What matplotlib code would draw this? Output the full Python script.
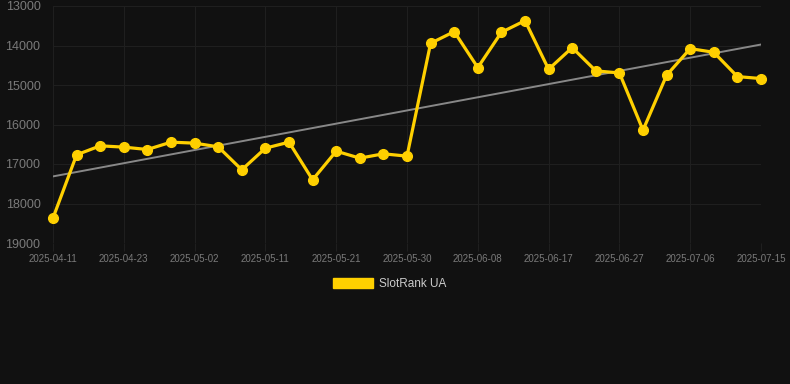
#! /usr/bin/env python
import numpy as np
import matplotlib as mpl
import matplotlib.pyplot as plt
import matplotlib.patches as mpatches
mpl.rc('font', family=['Liberation Sans', 'DejaVu Sans'])

# rank per observation (lower is better, axis inverted)
ranks = [18368, 16767, 16540, 16573, 16633, 16447, 16472, 16565, 17147, 16599,
         16447, 17400, 16675, 16852, 16742, 16801, 13944, 13649, 14559, 13666,
         13371, 14602, 14053, 14643, 14694, 16144, 14753, 14079, 14172, 14787,
         14837]
tick_labels = ['2025-04-11', '2025-04-23', '2025-05-02', '2025-05-11', '2025-05-21',
               '2025-05-30', '2025-06-08', '2025-06-17', '2025-06-27', '2025-07-06',
               '2025-07-15']
yticks = [13000, 14000, 15000, 16000, 17000, 18000, 19000]
series_name = 'SlotRank UA'

BG = '#111111'
YELLOW = '#FFD000'
GRID = '#1f1f1f'
LABEL = '#7a7a7a'

fig = plt.figure(figsize=(7.9, 3.84), dpi=100, facecolor=BG)
ax = fig.add_axes([53/790, 1-243/384, 708/790, 237/384], facecolor=BG)

x = np.arange(len(ranks))
y = np.array(ranks, float)

# linear trend
k, b = np.polyfit(x, y, 1)
ax.plot(x, k*x + b, color='#888888', lw=1.4, zorder=2)

ax.plot(x, y, color=YELLOW, lw=2.3, marker='o', ms=7, zorder=3, clip_on=False)

ax.set_xlim(0, len(ranks) - 1)
ax.set_ylim(19000, 13000)
ax.set_xticks(x[::3])
ax.set_xticklabels(tick_labels)
ax.set_yticks(yticks)
ax.tick_params(axis='y', length=0, pad=9, labelsize=9, labelcolor=LABEL)
ax.tick_params(axis='x', length=6, width=0.8, color=GRID, pad=2, labelsize=7, labelcolor=LABEL)
ax.grid(True, color=GRID, lw=0.8)
ax.set_axisbelow(True)
for s in ax.spines.values():
  s.set_visible(False)

handle = mpatches.Patch(color=YELLOW, label=series_name)
fig.legend(handles=[handle], loc='center', bbox_to_anchor=(390/790, 1-284/384),
           frameon=False, fontsize=8.5, labelcolor='#cccccc',
           handlelength=3.4, handleheight=1.0, handletextpad=0.5)

fig.savefig('out.png', dpi=100, facecolor=BG)
